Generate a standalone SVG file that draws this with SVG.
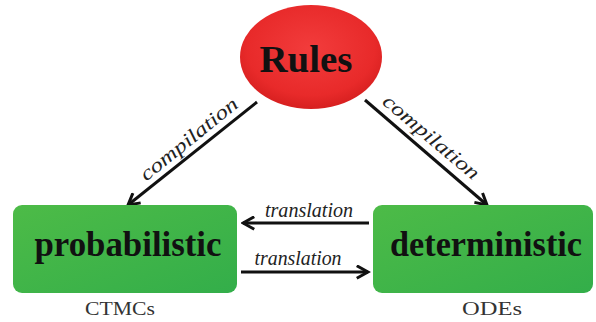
<svg xmlns="http://www.w3.org/2000/svg" width="596" height="322" viewBox="0 0 596 322">
<defs>
<radialGradient id="gRed" cx="0.5" cy="0.42" r="0.6">
<stop offset="0" stop-color="#f23c3c"/>
<stop offset="0.75" stop-color="#e82a2a"/>
<stop offset="1" stop-color="#d41e1e"/>
</radialGradient>
<linearGradient id="gGreen" x1="0" y1="0" x2="1" y2="1">
<stop offset="0" stop-color="#4dbb47"/>
<stop offset="1" stop-color="#33ae4a"/>
</linearGradient>
<marker id="ah" viewBox="0 0 12 12" refX="10" refY="6" markerWidth="5" markerHeight="5" orient="auto" markerUnits="strokeWidth">
<path d="M1,1 L10,6 L1,11" fill="none" stroke="#111" stroke-width="2.4" stroke-linejoin="miter"/>
</marker>
</defs>
<style>
.node-label{font-family:"Liberation Serif","DejaVu Serif",serif;font-weight:bold;fill:#111;text-anchor:middle}
.sub{font-family:"Liberation Serif","DejaVu Serif",serif;font-size:19px;fill:#333;text-anchor:middle}
.edge{stroke:#111;stroke-width:3;fill:none;marker-end:url(#ah)}
.elabel{font-family:"Liberation Serif","DejaVu Serif",serif;font-style:italic;font-size:20px;fill:#222;text-anchor:middle}
</style>
<rect width="596" height="322" fill="#fff"/>
<g id="connectors">
<line class="edge" x1="257" y1="102" x2="128" y2="205"/>
<line class="edge" x1="365" y1="100" x2="487" y2="205"/>
<line class="edge" x1="369" y1="223" x2="243" y2="223"/>
<line class="edge" x1="241" y1="272" x2="368" y2="272"/>
<text class="elabel" transform="translate(193,144) rotate(-39)" textLength="120" lengthAdjust="spacingAndGlyphs">compilation</text>
<text class="elabel" transform="translate(427,142) rotate(40.2)" textLength="120" lengthAdjust="spacingAndGlyphs">compilation</text>
<text class="elabel" x="309" y="217" textLength="88" lengthAdjust="spacingAndGlyphs">translation</text>
<text class="elabel" x="298" y="265" textLength="87" lengthAdjust="spacingAndGlyphs">translation</text>
</g>
<g id="rules">
<ellipse cx="311" cy="57" rx="71" ry="52" fill="url(#gRed)"/>
<text class="node-label" x="306" y="72" font-size="38" textLength="93" lengthAdjust="spacingAndGlyphs">Rules</text>
</g>
<g id="probabilistic">
<rect x="13" y="205" width="224" height="88" rx="9" fill="url(#gGreen)"/>
<text class="node-label" x="128" y="256" font-size="35" textLength="187" lengthAdjust="spacingAndGlyphs">probabilistic</text>
<text class="sub" x="120" y="315" textLength="70" lengthAdjust="spacingAndGlyphs">CTMCs</text>
</g>
<g id="deterministic">
<rect x="373" y="205" width="220" height="88" rx="9" fill="url(#gGreen)"/>
<text class="node-label" x="486" y="256" font-size="35" textLength="192" lengthAdjust="spacingAndGlyphs">deterministic</text>
<text class="sub" x="492" y="315" textLength="60" lengthAdjust="spacingAndGlyphs">ODEs</text>
</g>
</svg>
